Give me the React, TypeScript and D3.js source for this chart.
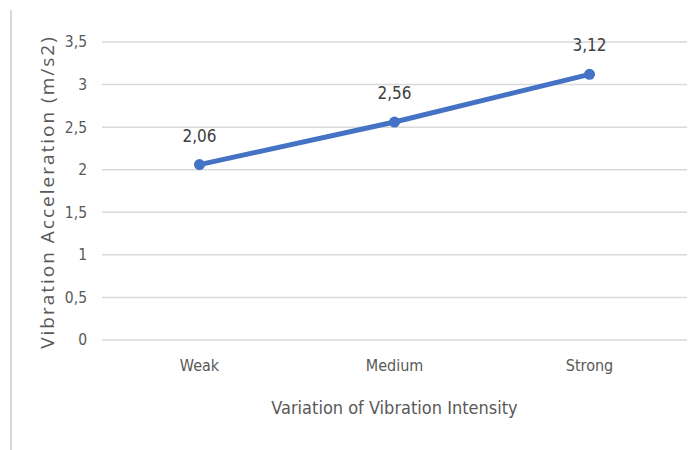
import { useEffect, useRef } from 'react'
import * as d3 from 'd3'

const categories = ['Weak', 'Medium', 'Strong']
const accel = [2.06, 2.56, 3.12]
const yTicks = [0, 0.5, 1, 1.5, 2, 2.5, 3, 3.5]

const W = 695
const H = 450
const margin = { top: 42, right: 8, bottom: 110, left: 102 }
const narrow = '"DejaVu Sans Condensed", "Liberation Sans Narrow", "Liberation Sans", sans-serif'
const fmt = (v: number) => String(v).replace('.', ',')

export default function App() {
  const svgRef = useRef<SVGSVGElement>(null)

  useEffect(() => {
    if (!svgRef.current) return
    const svg = d3.select(svgRef.current)
    svg.selectAll('*').remove()

    const innerW = W - margin.left - margin.right
    const innerH = H - margin.top - margin.bottom

    const x = d3.scaleBand<string>().domain(categories).range([0, innerW]).padding(0)
    const y = d3.scaleLinear().domain([0, 3.5]).range([innerH, 0])

    // frame edge on the left
    svg.append('line')
      .attr('x1', 11).attr('x2', 11)
      .attr('y1', 10).attr('y2', H)
      .attr('stroke', '#d9d9d9')
      .attr('stroke-width', 2)

    const g = svg.append('g').attr('transform', `translate(${margin.left},${margin.top})`)

    // grid
    g.append('g')
      .selectAll('line')
      .data(yTicks)
      .join('line')
      .attr('x1', 0).attr('x2', innerW)
      .attr('y1', d => y(d)).attr('y2', d => y(d))
      .attr('stroke', '#d9d9d9')
      .attr('stroke-width', 1.5)

    // y axis labels
    g.append('g')
      .call(d3.axisLeft(y).tickValues(yTicks).tickFormat(v => fmt(v as number)).tickSize(0).tickPadding(15))
      .call(sel => sel.select('.domain').remove())
      .call(sel => sel.selectAll('text')
        .attr('fill', '#595959')
        .attr('font-size', 15.5)
        .attr('font-family', narrow))

    // x axis labels
    g.append('g')
      .attr('transform', `translate(0,${innerH})`)
      .call(d3.axisBottom(x).tickSize(0).tickPadding(20))
      .call(sel => sel.select('.domain').remove())
      .call(sel => sel.selectAll('text')
        .attr('fill', '#595959')
        .attr('font-size', 16)
        .attr('font-family', narrow))

    const cx = (c: string) => x(c)! + x.bandwidth() / 2

    const line = d3.line<number>()
      .x((_, i) => cx(categories[i]))
      .y(d => y(d))

    g.append('path')
      .datum(accel)
      .attr('d', line)
      .attr('fill', 'none')
      .attr('stroke', '#4472c4')
      .attr('stroke-width', 5)
      .attr('stroke-linecap', 'round')

    g.append('g')
      .selectAll('circle')
      .data(accel)
      .join('circle')
      .attr('cx', (_, i) => cx(categories[i]))
      .attr('cy', d => y(d))
      .attr('r', 5.5)
      .attr('fill', '#4472c4')

    g.append('g')
      .selectAll('text')
      .data(accel)
      .join('text')
      .attr('x', (_, i) => cx(categories[i]))
      .attr('y', d => y(d) - 23)
      .attr('text-anchor', 'middle')
      .attr('fill', '#404040')
      .attr('font-size', 17)
      .attr('font-family', narrow)
      .text(d => fmt(d))

    // axis titles
    svg.append('text')
      .attr('x', margin.left + innerW / 2)
      .attr('y', 414)
      .attr('text-anchor', 'middle')
      .attr('fill', '#595959')
      .attr('font-size', 18)
      .attr('font-family', narrow)
      .text('Variation of Vibration Intensity')

    svg.append('text')
      .attr('transform', `translate(54,${192}) rotate(-90)`)
      .attr('text-anchor', 'middle')
      .attr('fill', '#595959')
      .attr('font-size', 19)
      .attr('letter-spacing', 2)
      .attr('font-family', '"Open Sans", "Noto Sans", sans-serif')
      .text('Vibration Acceleration (m/s2)')
  }, [])

  return (
    <svg
      ref={svgRef}
      width={W}
      height={H}
      style={{ position: 'absolute', left: 0, top: 0, background: '#fff' }}
    />
  )
}
